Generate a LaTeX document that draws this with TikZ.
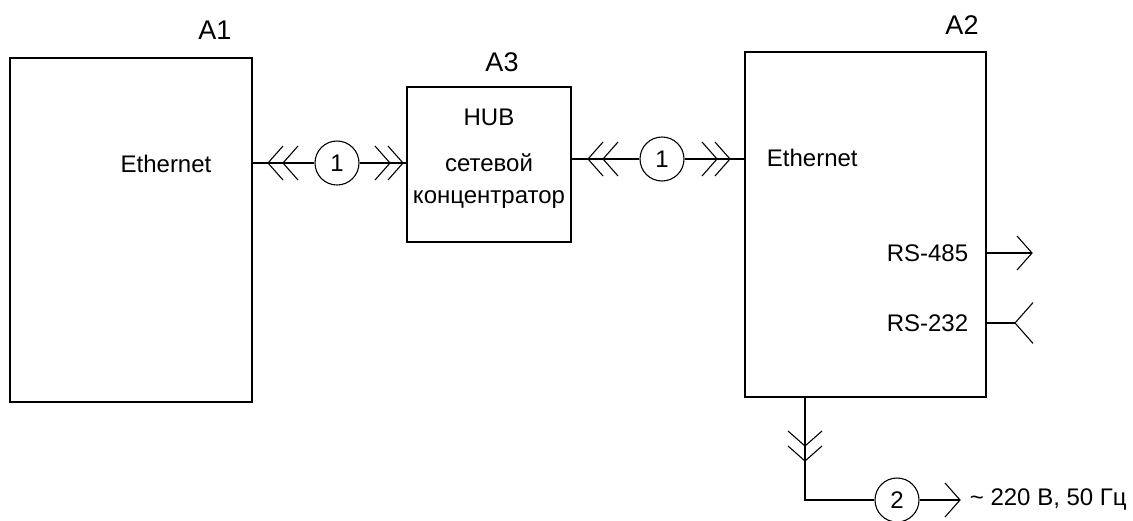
\documentclass[tikz,border=0pt]{standalone}
\usepackage{fontspec}
\setmainfont{Liberation Sans}
\usetikzlibrary{calc}
\tikzset{
  every node/.style={font=\fontsize{24}{28}\selectfont},
  unit/.style={draw, line width=1.3pt, inner sep=0pt},
  tag/.style={font=\fontsize{27}{31}\selectfont},
  socket/.style={draw, circle, minimum size=44pt, inner sep=0pt},
  chev/.pic={\draw (15,-17) -- (0,0) -- (15,17);}
}

\begin{document}
\begin{tikzpicture}[x=1pt, y=-1pt, line width=1.1pt]
  % Fixed frame
  \path[use as bounding box] (0,0) rectangle (1133,520);

  % Units
  \node[unit, minimum width=242pt, minimum height=344pt] (A1) at (131,230) {};
  \node[unit, minimum width=164pt, minimum height=155pt] (A3) at (489,164.5) {};
  \node[unit, minimum width=241pt, minimum height=345pt] (A2) at (865.5,224.5) {};

  \node[tag] (lA1) at (215,30) {A1};
  \node[tag] (lA3) at (502,62) {A3};
  \node[tag] (lA2) at (962,25) {A2};

  % Texts inside the units
  \node (eth1) at (166,164) {Ethernet};
  \node[anchor=west] (eth2) at (763,158) {Ethernet};
  \node (hub) at (489,117) {HUB};
  \node (net) at (489,163) {сетевой};
  \node (conc) at (489,200) {концентратор};

  % Cable 1, A1 -- A3
  \node[socket] (c1) at (337,163) {1};
  \draw (A1.east |- c1) -- (c1) -- (A3.west |- c1);
  \pic at (268,163) {chev};
  \pic at (283,163) {chev};
  \pic[rotate=180] at (390,163) {chev};
  \pic[rotate=180] at (403,163) {chev};

  % Cable 1, A3 -- A2
  \node[socket] (c2) at (662,159) {1};
  \draw (A3.east |- c2) -- (c2) -- (A2.west |- c2);
  \pic at (588,159) {chev};
  \pic at (603,159) {chev};
  \pic[rotate=180] at (717,159) {chev};
  \pic[rotate=180] at (730,159) {chev};

  % Serial ports
  \node[anchor=east] (rs485) at (972,253) {RS-485};
  \coordinate (o485) at (1032,253);
  \draw (A2.east |- o485) -- (o485);
  \pic[rotate=180] at (o485) {chev};

  \node[anchor=east] (rs232) at (972,323) {RS-232};
  \coordinate (i232) at (1015,323);
  \draw (A2.east |- i232) -- (i232);
  \pic[scale=1.2] at (i232) {chev};

  % Mains, cable 2
  \coordinate (pwr) at (805,500);
  \node[socket] (c3) at (897,500) {2};
  \coordinate (o220) at (960,500);
  \draw (A2.south -| pwr) -- (pwr) -- (c3) -- (o220);
  \pic[rotate=90] at (805,446) {chev};
  \pic[rotate=90] at (805,461) {chev};
  \pic[rotate=180] at (o220) {chev};
  \node[anchor=west] (mains) at (966,500) {\textasciitilde{} 220 В, 50 Гц};
\end{tikzpicture}
\end{document}
